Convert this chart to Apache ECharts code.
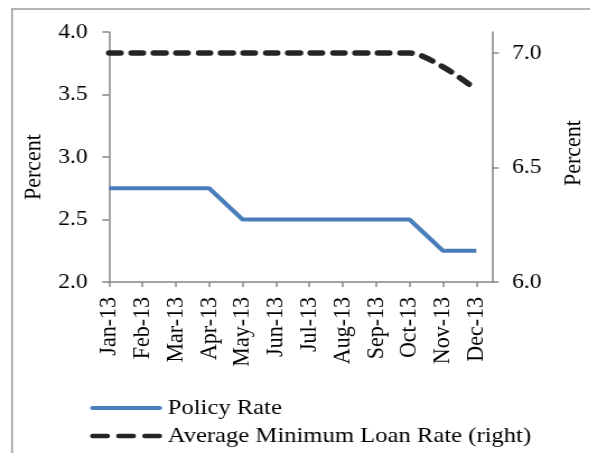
<!DOCTYPE html>
<html>
<head>
<meta charset="utf-8">
<script src="https://cdn.jsdelivr.net/npm/echarts@6/dist/echarts.min.js"></script>
<style>
html, body { margin: 0; padding: 0; background: #fff; overflow: hidden; }
#wrap { width: 590px; height: 453px; overflow: hidden; }
/* the source picture is a little stretched sideways, so stretch the chart the same way */
#chart { width: 527px; height: 453px; transform: scaleX(1.12); transform-origin: 0 0; }
</style>
</head>
<body>
<div id="wrap"><div id="chart"></div></div>
<script>
// data
var months = ['Jan-13', 'Feb-13', 'Mar-13', 'Apr-13', 'May-13', 'Jun-13',
	'Jul-13', 'Aug-13', 'Sep-13', 'Oct-13', 'Nov-13', 'Dec-13'];
var policyRate = [2.75, 2.75, 2.75, 2.75, 2.5, 2.5, 2.5, 2.5, 2.5, 2.5, 2.25, 2.25];
var minLoanRate = [7.0, 7.0, 7.0, 7.0, 7.0, 7.0, 7.0, 7.0, 7.0, 7.0, 6.94, 6.84];
var leftTicks = [2.0, 2.5, 3.0, 3.5, 4.0];
var rightTicks = [6.0, 6.5, 7.0];

var monthIdx = months.map(function (m, i) { return i; });
function pairs(arr) {
	return arr.map(function (v, i) { return [i, v]; });
}

var font = '"Liberation Serif", "Times New Roman", serif';
var axisGrey = '#868686';
var blue = '#4a7ebb';
var dark = '#242424';

var chart = echarts.init(document.getElementById('chart'));
var option = {
	backgroundColor: '#fff',
	animation: false,
	textStyle: { fontFamily: font, color: '#000' },
	graphic: [{
		type: 'rect',
		shape: { x: 10.7, y: 9, width: 620, height: 520 },
		style: { fill: 'none', stroke: '#9a9a9a', lineWidth: 1.5 },
		silent: true
	}],
	grid: { left: 97.3, right: 87.7, top: 32, bottom: 171, outerBoundsMode: 'none' },
	legend: {
		orient: 'vertical',
		left: 80.4,
		top: 397,
		padding: 0,
		itemWidth: 64.3,
		itemHeight: 4.5,
		itemGap: 6,
		textStyle: { fontFamily: font, fontSize: 22, color: '#000' },
		data: [{
			name: 'Policy Rate',
			icon: 'path://M2,0H62A2,2,0,0,1,62,4H2A2,2,0,0,1,2,0Z'
		}, {
			name: 'Average Minimum Loan Rate (right)',
			icon: 'path://M2,0H14A2,2,0,0,1,14,4H2A2,2,0,0,1,2,0Z M23,0H35A2,2,0,0,1,35,4H23A2,2,0,0,1,23,0Z M44,0H56A2,2,0,0,1,56,4H44A2,2,0,0,1,44,0Z'
		}]
	},
	xAxis: {
		type: 'value',
		min: 0,
		max: 11.47,
		splitLine: { show: false },
		axisLine: { lineStyle: { color: axisGrey, width: 1.5 } },
		axisTick: { show: true, length: 5, customValues: monthIdx, lineStyle: { color: axisGrey, width: 1.5 } },
		axisLabel: {
			customValues: monthIdx,
			rotate: 90,
			margin: 15,
			fontFamily: font,
			fontSize: 22,
			color: '#000',
			formatter: function (v) { return months[Math.round(v)]; }
		}
	},
	yAxis: [{
		type: 'value',
		min: 2,
		max: 4,
		position: 'left',
		name: 'Percent',
		nameLocation: 'middle',
		nameRotate: 90,
		nameGap: 54,
		nameTextStyle: { fontFamily: font, fontSize: 22, color: '#000', padding: [0, 20, 0, 0] },
		splitLine: { show: false },
		axisLine: { show: true, lineStyle: { color: axisGrey, width: 1.5 } },
		axisTick: { show: true, length: 6, customValues: leftTicks, lineStyle: { color: axisGrey, width: 1.5 } },
		axisLabel: {
			customValues: leftTicks,
			margin: 19,
			fontFamily: font,
			fontSize: 21,
			color: '#000',
			formatter: function (v) { return v.toFixed(1); }
		}
	}, {
		type: 'value',
		min: 6,
		max: 7.092,
		position: 'right',
		name: 'Percent',
		nameLocation: 'middle',
		nameRotate: 90,
		nameGap: 62,
		nameTextStyle: { fontFamily: font, fontSize: 22, color: '#000', padding: [0, 0, 0, 8] },
		splitLine: { show: false },
		axisLine: { show: true, lineStyle: { color: axisGrey, width: 1.5 } },
		axisTick: { show: true, length: 6, customValues: rightTicks, lineStyle: { color: axisGrey, width: 1.5 } },
		axisLabel: {
			customValues: rightTicks,
			margin: 18,
			fontFamily: font,
			fontSize: 21,
			color: '#000',
			formatter: function (v) { return v.toFixed(1); }
		}
	}],
	series: [{
		name: 'Policy Rate',
		type: 'line',
		yAxisIndex: 0,
		symbol: 'none',
		color: blue,
		lineStyle: { color: blue, width: 4 },
		data: pairs(policyRate)
	}, {
		name: 'Average Minimum Loan Rate (right)',
		type: 'line',
		yAxisIndex: 1,
		symbol: 'none',
		smooth: 0.3,
		color: dark,
		lineStyle: { color: dark, width: 5.5, type: [10.5, 9.5], cap: 'round' },
		data: pairs(minLoanRate)
	}]
};

chart.setOption(option);

window.addEventListener('resize', function () {
	chart.resize();
});
</script>
</body>
</html>
